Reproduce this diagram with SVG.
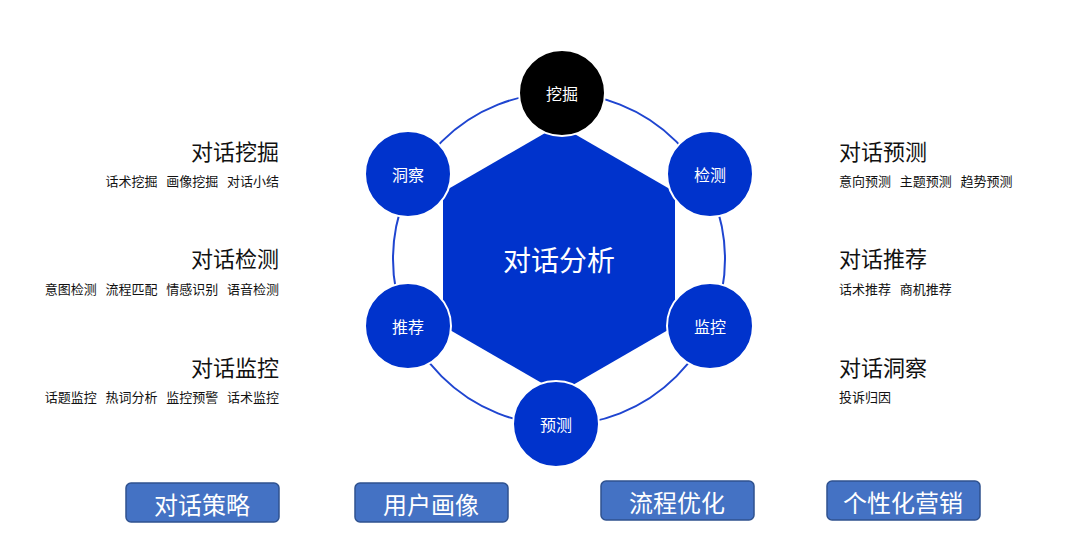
<svg xmlns="http://www.w3.org/2000/svg" width="1080" height="552" viewBox="0 0 1080 552">
<style>
text{font-family:"Noto Sans CJK SC","Microsoft YaHei",sans-serif}
.n{fill:#0033CC;stroke:#fff;stroke-width:2}
.nt{fill:#fff;font-size:16px;text-anchor:middle;dominant-baseline:central}
.h{font-size:22px;fill:#111}
.s{font-size:13px;fill:#111}
.b{fill:#4472C4;stroke:#2F528F;stroke-width:1.5}
.bt{fill:#fff;font-size:24px;text-anchor:middle;dominant-baseline:central}
</style>
<rect width="1080" height="552" fill="#fff"/>
<g id="connectors"><circle cx="559" cy="259" r="166" fill="none" stroke="#1F45D0" stroke-width="2"/></g>
<g id="center"><polygon points="559,125 675,192 675,326 559,393 443,326 443,192" fill="#0033CC"/><text x="559" y="259" class="nt" style="font-size:28px">对话分析</text></g>
<g id="n1"><circle cx="562" cy="93" r="43" fill="#000" stroke="#fff" stroke-width="2"/><text x="562" y="93" class="nt">挖掘</text></g>
<g id="n2"><circle cx="710" cy="174" r="43" class="n"/><text x="710" y="174" class="nt">检测</text></g>
<g id="n3"><circle cx="710" cy="326" r="43" class="n"/><text x="710" y="326" class="nt">监控</text></g>
<g id="n4"><circle cx="556" cy="424" r="43" class="n"/><text x="556" y="424" class="nt">预测</text></g>
<g id="n5"><circle cx="408" cy="326" r="43" class="n"/><text x="408" y="326" class="nt">推荐</text></g>
<g id="n6"><circle cx="408" cy="174" r="43" class="n"/><text x="408" y="174" class="nt">洞察</text></g>
<g id="left" text-anchor="end">
<text x="279" y="160" class="h">对话挖掘</text><text x="279" y="186" class="s" xml:space="preserve">话术挖掘   画像挖掘   对话小结</text>
<text x="279" y="267" class="h">对话检测</text><text x="279" y="294" class="s" xml:space="preserve">意图检测   流程匹配   情感识别   语音检测</text>
<text x="279" y="376" class="h">对话监控</text><text x="279" y="402" class="s" xml:space="preserve">话题监控   热词分析   监控预警   话术监控</text>
</g>
<g id="right">
<text x="839" y="160" class="h">对话预测</text><text x="839" y="186" class="s" xml:space="preserve">意向预测   主题预测   趋势预测</text>
<text x="839" y="267" class="h">对话推荐</text><text x="839" y="294" class="s" xml:space="preserve">话术推荐   商机推荐</text>
<text x="839" y="376" class="h">对话洞察</text><text x="839" y="402" class="s">投诉归因</text>
</g>
<g id="b1"><rect x="126" y="483" width="153" height="39" rx="5" class="b"/><text x="202" y="503" class="bt">对话策略</text></g>
<g id="b2"><rect x="355" y="483" width="153" height="39" rx="5" class="b"/><text x="431" y="503" class="bt">用户画像</text></g>
<g id="b3"><rect x="601" y="481" width="153" height="39" rx="5" class="b"/><text x="677" y="501" class="bt">流程优化</text></g>
<g id="b4"><rect x="827" y="481" width="153" height="39" rx="5" class="b"/><text x="903" y="501" class="bt">个性化营销</text></g>
</svg>
